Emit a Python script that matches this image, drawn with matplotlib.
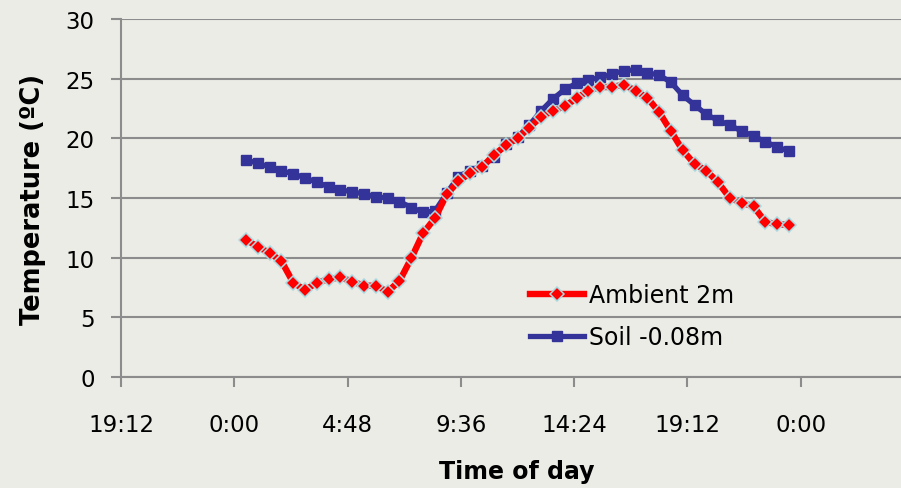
import matplotlib
matplotlib.use("Agg")
import matplotlib.pyplot as plt

times = ["0:30", "1:00", "1:30", "2:00", "2:30", "3:00", "3:30", "4:00", "4:30", "5:00",
         "5:30", "6:00", "6:30", "7:00", "7:30", "8:00", "8:30", "9:00", "9:30", "10:00",
         "10:30", "11:00", "11:30", "12:00", "12:30", "13:00", "13:30", "14:00", "14:30", "15:00",
         "15:30", "16:00", "16:30", "17:00", "17:30", "18:00", "18:30", "19:00", "19:30", "20:00",
         "20:30", "21:00", "21:30", "22:00", "22:30", "23:00", "23:30"]

ambient = [11.5, 10.9, 10.4, 9.7, 7.9, 7.3, 7.9, 8.2, 8.35, 8.0,
           7.65, 7.65, 7.15, 8.05, 9.95, 12.05, 13.3, 15.3, 16.4, 17.1,
           17.6, 18.6, 19.4, 20.0, 20.9, 21.8, 22.3, 22.7, 23.35, 24.0,
           24.3, 24.3, 24.5, 24.0, 23.4, 22.2, 20.6, 19.0, 17.85, 17.3,
           16.3, 15.0, 14.6, 14.3, 13.0, 12.8, 12.75]

soil = [18.2, 17.9, 17.6, 17.3, 17.0, 16.7, 16.3, 15.95, 15.7, 15.5,
        15.35, 15.1, 15.0, 14.7, 14.2, 13.8, 13.9, 15.4, 16.8, 17.3,
        17.7, 18.4, 19.5, 20.1, 21.1, 22.3, 23.3, 24.1, 24.6, 24.9,
        25.1, 25.4, 25.65, 25.75, 25.5, 25.3, 24.7, 23.6, 22.8, 22.0,
        21.5, 21.1, 20.6, 20.2, 19.7, 19.3, 18.9]

xtick_hours = [-4.8, 0.0, 4.8, 9.6, 14.4, 19.2, 24.0]
xtick_labels = ["19:12", "0:00", "4:48", "9:36", "14:24", "19:12", "0:00"]
yticks = [0, 5, 10, 15, 20, 25, 30]


def to_hours(s):
    h, m = s.split(":")
    return int(h) + int(m) / 60.0


hours = [to_hours(t) for t in times]

bg = "#ECECE6"
grid_c = "#8C8C8C"

fig = plt.figure(figsize=(9.01, 4.89), dpi=100, facecolor=bg)
ax = fig.add_axes([121 / 901, 1 - 378 / 489, (914 - 121) / 901, (378 - 20) / 489])
ax.set_facecolor(bg)

ax.plot(hours, soil, color="#333399", lw=3.8, marker="s", ms=7.5,
        mfc="#333399", mec="#333399", label="Soil -0.08m", zorder=3)
ax.plot(hours, ambient, color="#FF0000", lw=4.6, marker="D", ms=7.0,
        mfc="#FF0000", mec="#A8D8E0", mew=1.1, label="Ambient 2m", zorder=4)

ax.set_xlim(-4.8, 28.8)
ax.set_ylim(0, 30)
ax.set_xticks(xtick_hours)
ax.set_xticklabels(xtick_labels)
ax.set_yticks(yticks)

ax.grid(axis="y", color=grid_c, lw=1.5)
ax.set_axisbelow(True)
for s in ["top", "right"]:
    ax.spines[s].set_visible(False)
for s in ["left", "bottom"]:
    ax.spines[s].set_color(grid_c)
    ax.spines[s].set_linewidth(1.5)

ax.tick_params(axis="x", direction="out", length=7, width=1.5, color=grid_c,
               labelsize=16.5, pad=19)
ax.tick_params(axis="y", direction="out", length=7, width=1.5, color=grid_c,
               labelsize=16.5, pad=12)

ax.set_ylabel("Temperature (ºC)", fontsize=18.5, fontweight="bold", labelpad=14)
fig.text(517 / 901, 1 - 472 / 489, "Time of day", fontsize=17, fontweight="bold",
         ha="center", va="center")

handles, labels = ax.get_legend_handles_labels()
leg = ax.legend(handles[::-1], labels[::-1], loc="center left",
                bbox_to_anchor=(518 / 901, 1 - 317 / 489), bbox_transform=fig.transFigure,
                frameon=False, fontsize=17, numpoints=1, handlelength=2.3,
                handletextpad=0.2, labelspacing=0.75, borderpad=0.0)

fig.savefig("out.png", dpi=100, facecolor=bg)
